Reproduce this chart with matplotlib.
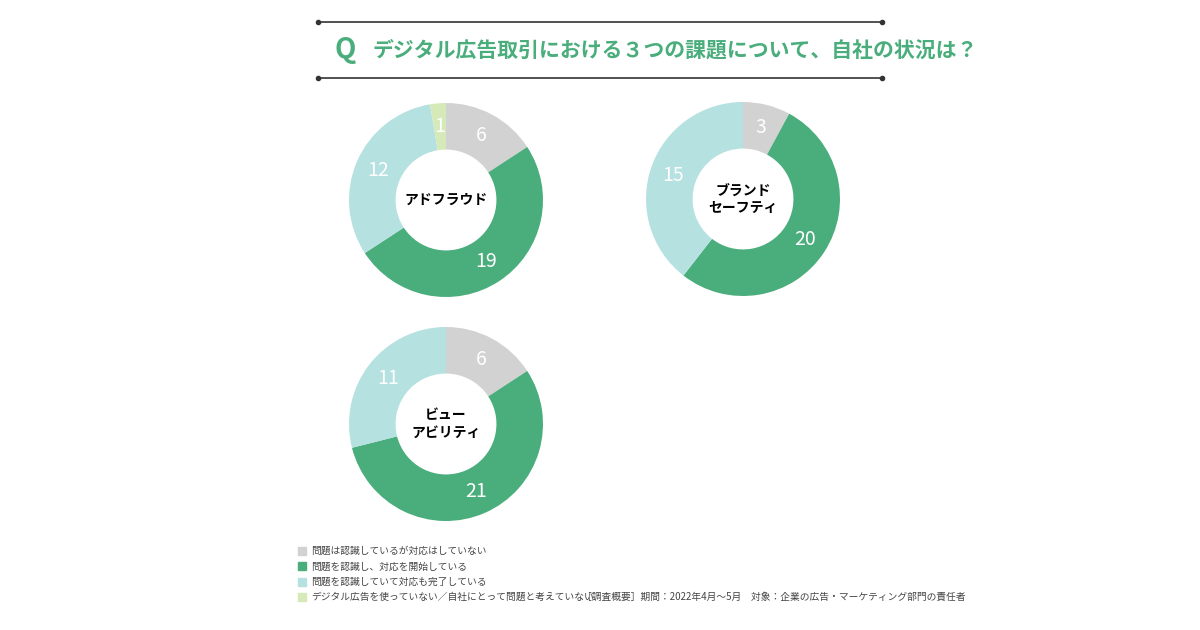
import matplotlib
matplotlib.use("Agg")
import matplotlib.pyplot as plt

plt.rcParams["font.family"] = "Noto Sans CJK JP"

categories = ["問題は認識しているが対応はしていない", "問題を認識し、対応を開始している",
              "問題を認識していて対応も完了している", "デジタル広告を使っていない／自社にとって問題と考えていない"]
colors = ["#d2d2d2", "#4aad7c", "#b5e1e0", "#d6e9b8"]
chart_titles = ["アドフラウド", "ブランド\nセーフティ", "ビュー\nアビリティ"]
adfraud = [6, 19, 12, 1]
brand_safety = [3, 20, 15, 0]
viewability = [6, 21, 11, 0]
series = [adfraud, brand_safety, viewability]
centers = [(446, 200), (743, 199), (446, 424)]

W, H = 1200, 630
fig = plt.figure(figsize=(12, 6.3), dpi=100)
fig.patch.set_facecolor("white")

R = 97
for vals, title, (cx, cy) in zip(series, chart_titles, centers):
    ax = fig.add_axes([(cx - 100) / W, 1 - (cy + 100) / H, 200 / W, 200 / H])
    v = [x for x in vals]
    wedges, _ = ax.pie(v, colors=colors, startangle=90, counterclock=False, radius=1,
                       wedgeprops=dict(width=0.48, edgecolor="none"))
    import numpy as np
    tot = sum(v)
    cum = 0
    for val in v:
        if val > 0:
            mid = 90 - 360 * (cum + val / 2) / tot
            r = 0.76
            ax.text(r * np.cos(np.radians(mid)), r * np.sin(np.radians(mid)), str(val),
                    ha="center", va="center", color="white", fontsize=14)
        cum += val
    ax.text(0, 0, title, ha="center", va="center", fontsize=10, fontweight="bold", linespacing=1.3)
    ax.set_xlim(-100 / R, 100 / R)
    ax.set_ylim(-100 / R, 100 / R)
    ax.set_aspect("equal")
    ax.axis("off")

# title block
for y in (22, 78):
    fig.add_artist(plt.Line2D([318 / W, 882 / W], [1 - y / H] * 2, color="#333333", lw=1.2))
    for x in (318, 882):
        fig.add_artist(plt.Line2D([x / W], [1 - y / H], marker="o", ms=3, color="#333333"))
fig.text(345 / W, 1 - 50 / H, "Q", color="#4aad7c", fontsize=20, fontweight="bold", ha="center", va="center")
fig.text(373 / W, 1 - 50 / H, "デジタル広告取引における３つの課題について、自社の状況は？",
         color="#4aad7c", fontsize=15, fontweight="bold", ha="left", va="center")

# legend
for i, (lab, c) in enumerate(zip(categories, colors)):
    y = 551 + i * 15.3
    fig.add_artist(plt.Rectangle((298 / W, 1 - (y + 4) / H), 8 / W, 8 / H, color=c))
    fig.text(311 / W, 1 - y / H, lab, fontsize=7, color="#444444", va="center")
fig.text(582 / W, 1 - 597 / H, "［調査概要］期間：2022年4月～5月　対象：企業の広告・マーケティング部門の責任者",
         fontsize=7, color="#444444", va="center")

fig.savefig("out.png", dpi=100, facecolor="white")
